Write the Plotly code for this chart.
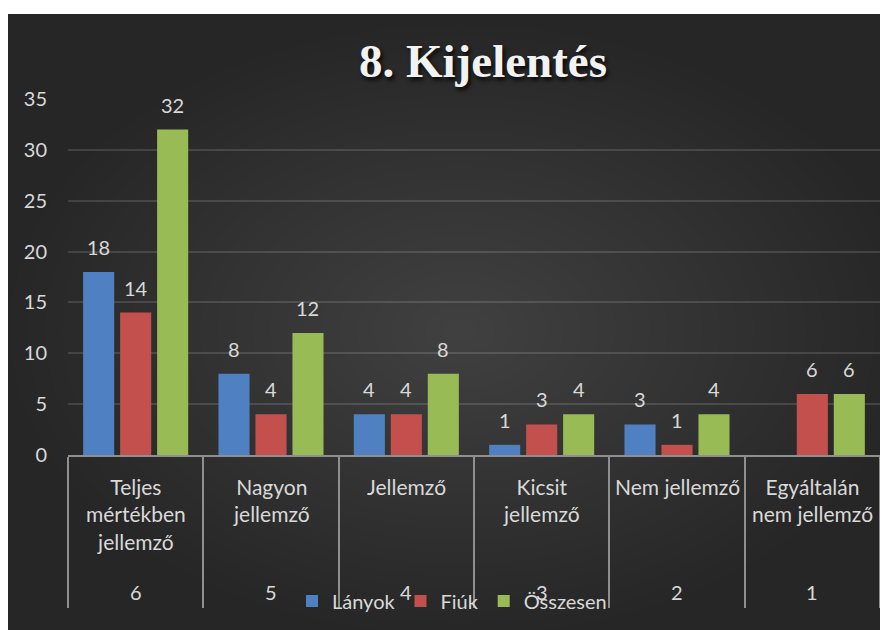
import plotly.graph_objects as go

categories = ["Teljes<br>mértékben<br>jellemző", "Nagyon<br>jellemző", "Jellemző",
              "Kicsit<br>jellemző", "Nem jellemző", "Egyáltalán<br>nem jellemző"]
codes = ["6", "5", "4", "3", "2", "1"]
series_names = ["Lányok", "Fiúk", "Összesen"]
lanyok = [18, 8, 4, 1, 3, 0]
fiuk = [14, 4, 4, 3, 1, 6]
osszesen = [32, 12, 8, 4, 4, 6]
y_ticks = [0, 5, 10, 15, 20, 25, 30, 35]
title_text = "8. Kijelentés"

colors = ["#4f81c2", "#c4504d", "#99bb55"]
OFF = 8                      # the page's own body margin
W, H = 888 - OFF, 630 - OFF  # figure size
# plot area in page pixels: x 68..880, y 99..455
L, R, T, B = 68 - OFF, 888 - 880, 99 - OFF, 630 - 455
PW, PH = W - L - R, H - T - B
BARGAP, GROUPGAP = 0.18, 0.16
FONT = "Lato"
TXT = "#d9d9d9"


def px_x(px):  # page pixel -> paper
    return (px - OFF - L) / PW


def px_y(py):
    return (H - B - (py - OFF)) / PH


xcat = list(range(len(categories)))
fig = go.Figure()
for name, vals, col in zip(series_names, [lanyok, fiuk, osszesen], colors):
    fig.add_trace(go.Bar(x=xcat, y=vals, name=name, marker=dict(color=col, line=dict(width=0))))

shapes = []
shapes.append(dict(type="rect", xref="paper", yref="paper", x0=px_x(7), x1=px_x(890),
                   y0=px_y(632), y1=px_y(14), fillcolor="#262626", line=dict(width=0), layer="below"))
N = 26
cx, cy = 460, 330
for k in range(N):
    f = 1 - k / N
    rx, ry = 450 * f, 305 * f
    shapes.append(dict(type="circle", xref="paper", yref="paper",
                       x0=px_x(cx - rx), x1=px_x(cx + rx), y0=px_y(cy + ry), y1=px_y(cy - ry),
                       fillcolor="rgba(255,255,255,0.009)", line=dict(width=0), layer="below"))

annotations = []
slot = (1 - BARGAP) / 3
for i, vals in enumerate([lanyok, fiuk, osszesen]):
    for j, v in enumerate(vals):
        if v == 0:
            continue
        annotations.append(dict(x=j + (i - 1) * slot, y=v, xref="x", yref="y", text=str(v),
                                showarrow=False, yanchor="bottom", yshift=11,
                                font=dict(family=FONT, size=20, color=TXT)))
for j, (c, code) in enumerate(zip(categories, codes)):
    annotations.append(dict(x=j, y=px_y(472), xref="x", yref="paper", text=c, showarrow=False,
                            yanchor="top", font=dict(family=FONT, size=21, color=TXT)))
    annotations.append(dict(x=j, y=px_y(592), xref="x", yref="paper", text=code, showarrow=False,
                            yanchor="middle", font=dict(family=FONT, size=20, color=TXT)))
annotations.append(dict(x=px_x(483), y=px_y(61), xref="paper", yref="paper", text="<b>" + title_text + "</b>",
                        showarrow=False, xanchor="center", yanchor="middle",
                        font=dict(family="Liberation Serif", size=47, color="#f2f2f2",
                                  shadow="2px 3px 4px rgba(0,0,0,0.85)")))

fig.update_layout(
    width=W, height=H,
    margin=dict(l=L, r=R, t=T, b=B, pad=0),
    paper_bgcolor="white", plot_bgcolor="rgba(0,0,0,0)",
    barmode="group", bargap=BARGAP, bargroupgap=GROUPGAP,
    shapes=shapes, annotations=annotations,
    showlegend=True,
    legend=dict(orientation="h", x=px_x(292), xanchor="left", y=px_y(601), yanchor="middle",
                font=dict(family=FONT, size=20, color=TXT), bgcolor="rgba(0,0,0,0)",
                itemwidth=30, tracegroupgap=0),
    xaxis=dict(type="linear", range=[-0.5, len(categories) - 0.5], showgrid=False, zeroline=False,
               showline=True, linecolor="#8f8f8f", linewidth=2,
               tickvals=[k - 0.5 for k in range(len(categories) + 1)], ticks="outside",
               ticklen=151, tickwidth=2, tickcolor="#8f8f8f", showticklabels=False),
    yaxis=dict(range=[0, 35], tickvals=y_ticks, showgrid=True, gridcolor="rgba(255,255,255,0.13)",
               gridwidth=1.5, zeroline=False, showline=False, ticks="",
               tickfont=dict(family=FONT, size=20, color=TXT), ticklabelstandoff=20),
)
fig.write_html("out.html")
